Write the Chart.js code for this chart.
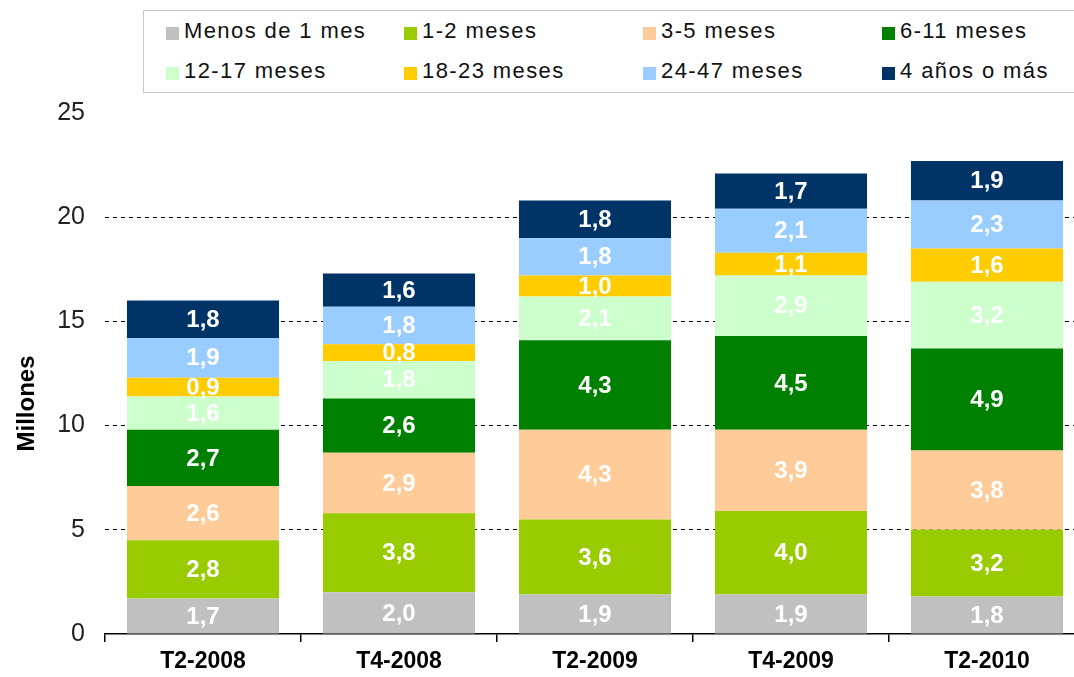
<!DOCTYPE html>
<html>
<head>
<meta charset="utf-8">
<script src="https://cdn.jsdelivr.net/npm/chart.js@4.4.1/dist/chart.umd.min.js"></script>
<style>
  html, body { margin: 0; padding: 0; background: #fff; overflow: hidden; }
  body { width: 1074px; height: 677px; position: relative; font-family: "Liberation Sans", Arial, sans-serif; }
  #wrap { position: absolute; left: 0; top: 0; width: 1090px; height: 677px; }
  #legend {
    position: absolute; left: 143px; top: 10px; width: 960px; height: 83px;
    border: 1.5px solid #c8c8c8; box-sizing: border-box; background: #fff;
    display: grid; grid-template-columns: 238px 239px 239px auto; grid-auto-rows: 40px;
    padding-left: 22px; align-items: center;
  }
  .item { display: flex; align-items: baseline; font-size: 22px; letter-spacing: 1.4px; color: #111; white-space: nowrap; }
  .sw { display: inline-block; width: 13px; height: 13px; margin-right: 5px; position: relative; top: 2px; }
</style>
</head>
<body>
<div id="wrap"><canvas id="chart"></canvas></div>
<div id="legend"></div>
<script>
const categories = ["T2-2008", "T4-2008", "T2-2009", "T4-2009", "T2-2010"];

const seriesNames = ["Menos de 1 mes", "1-2 meses", "3-5 meses", "6-11 meses",
                     "12-17 meses", "18-23 meses", "24-47 meses", "4 años o más"];
const seriesColors = ["#c0c0c0", "#99cc00", "#ffcc99", "#008000",
                      "#ccffcc", "#ffcc00", "#99ccff", "#003366"];

const menos1 = [1.7, 2.0, 1.9, 1.9, 1.8];
const meses1a2 = [2.8, 3.8, 3.6, 4.0, 3.2];
const meses3a5 = [2.6, 2.9, 4.3, 3.9, 3.8];
const meses6a11 = [2.7, 2.6, 4.3, 4.5, 4.9];
const meses12a17 = [1.6, 1.8, 2.1, 2.9, 3.2];
const meses18a23 = [0.9, 0.8, 1.0, 1.1, 1.6];
const meses24a47 = [1.9, 1.8, 1.8, 2.1, 2.3];
const anios4mas = [1.8, 1.6, 1.8, 1.7, 1.9];

const seriesValues = [menos1, meses1a2, meses3a5, meses6a11, meses12a17, meses18a23, meses24a47, anios4mas];

const yTicks = [0, 5, 10, 15, 20, 25];

const FONT = '"Liberation Sans", Arial, sans-serif';

// legend as html so the column layout of the original can be kept
document.getElementById("legend").innerHTML = seriesNames.map((name, i) => `
  <div class="item"><span class="sw" style="background:${seriesColors[i]}"></span>${name}</div>
`).join("");

const barLabels = {
  id: "barLabels",
  afterDatasetsDraw(chart) {
    const ctx = chart.ctx;
    ctx.save();
    ctx.font = `bold 24px ${FONT}`;
    ctx.fillStyle = "#fff";
    ctx.textAlign = "center";
    ctx.textBaseline = "middle";
    chart.data.datasets.forEach((ds, i) => {
      chart.getDatasetMeta(i).data.forEach((bar, j) => {
        const txt = ds.data[j].toFixed(1).replace(".", ",");
        ctx.fillText(txt, bar.x, (bar.y + bar.base) / 2 + 1);
      });
    });
    ctx.restore();
  }
};

const yTitle = {
  id: "yTitle",
  afterDraw(chart) {
    const ctx = chart.ctx;
    const area = chart.chartArea;
    ctx.save();
    ctx.translate(27, (area.top + area.bottom) / 2 + 30);
    ctx.rotate(-Math.PI / 2);
    ctx.font = `bold 24px ${FONT}`;
    ctx.fillStyle = "#000";
    ctx.textAlign = "center";
    ctx.textBaseline = "middle";
    ctx.fillText("Millones", 0, 0);
    ctx.restore();
  }
};

new Chart(document.getElementById("chart"), {
  type: "bar",
  data: {
    labels: categories,
    datasets: seriesNames.map((name, i) => ({
      label: name,
      data: seriesValues[i],
      backgroundColor: seriesColors[i],
      borderWidth: 0,
      categoryPercentage: 1,
      barPercentage: 0.776
    }))
  },
  options: {
    responsive: true,
    maintainAspectRatio: false,
    animation: false,
    layout: { padding: { top: 113, right: 5, left: 0, bottom: 0 } },
    plugins: {
      legend: { display: false },
      tooltip: { enabled: false }
    },
    scales: {
      x: {
        stacked: true,
        afterFit: s => { s.height = 43; },
        grid: { offset: true, drawOnChartArea: false, drawTicks: true, tickLength: 8, color: "#000", lineWidth: 1.5 },
        border: { display: true, color: "#000", width: 1.5 },
        ticks: { color: "#000", padding: 6, font: { family: FONT, size: 23, weight: "bold" } }
      },
      y: {
        stacked: true,
        min: 0,
        max: 25,
        afterFit: s => { s.width = 105; },
        afterBuildTicks: s => { s.ticks = yTicks.map(v => ({ value: v })); },
        grid: {
          drawTicks: false,
          color: c => (c.tick.value === 0 || c.tick.value === 25) ? "rgba(0,0,0,0)" : "#000",
          lineWidth: 1
        },
        border: { display: false, dash: [4, 4] },
        ticks: { color: "#222", padding: 20, font: { family: FONT, size: 25 } }
      }
    }
  },
  plugins: [barLabels, yTitle]
});
</script>
</body>
</html>
